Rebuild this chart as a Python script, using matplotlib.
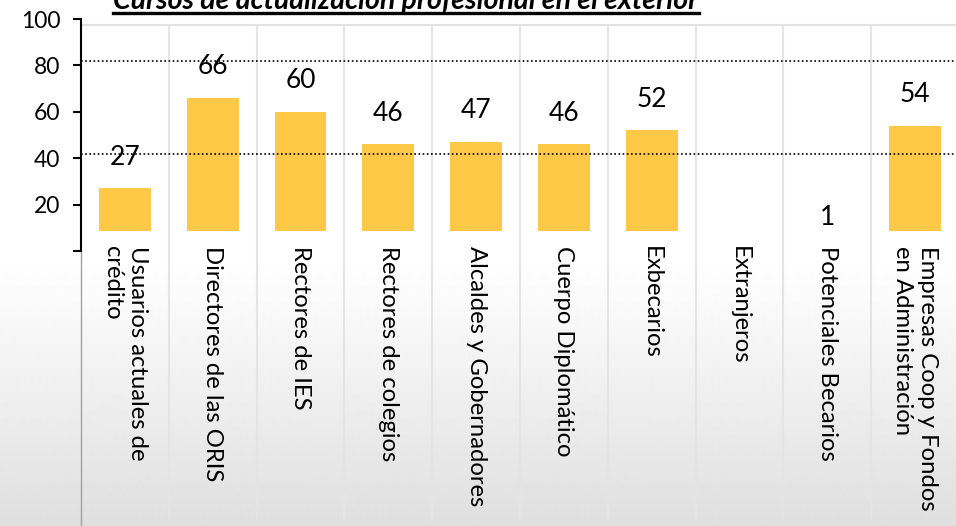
import matplotlib
matplotlib.use("Agg")
import matplotlib.pyplot as plt
import numpy as np
from matplotlib.patches import Rectangle
from matplotlib.lines import Line2D

plt.rcParams['font.family'] = ['Lato', 'DejaVu Sans']

# datos
titulo = "Cursos de actualización profesional en el exterior"
categorias = ["Usuarios actuales de\ncrédito", "Directores de las ORIS", "Rectores de IES",
              "Rectores de colegios", "Alcaldes y Gobernadores", "Cuerpo Diplomático",
              "Exbecarios", "Extranjeros", "Potenciales Becarios",
              "Empresas Coop y Fondos\nen Administración"]
valores = [27, 66, 60, 46, 47, 46, 52, np.nan, 1, 54]
lineas_ref = [82, 41.7]
y_ticks = [0, 20, 40, 60, 80, 100]
y_tick_labels = ["", "20", "40", "60", "80", "100"]

W, H = 956, 526
fig = plt.figure(figsize=(W / 100, H / 100), dpi=100)
fig.patch.set_facecolor('white')

# panel gris degradado bajo las etiquetas
panel_top = 231
bg = fig.add_axes([0, 0, 1, (H - panel_top) / H], zorder=0)
n = H - panel_top
grad = np.concatenate([np.ones(30), np.linspace(1, 0.875, n - 30)])
bg.imshow(np.tile(grad[:, None], (1, 2)), cmap='gray', vmin=0, vmax=1,
          aspect='auto', extent=[0, 1, 0, 1], interpolation='bilinear')
bg.axis('off')

# ejes principales
x0, x1 = 81, 959
y_top, y0 = 19, 251
ax = fig.add_axes([x0 / W, 1 - y0 / H, (x1 - x0) / W, (y0 - y_top) / H], zorder=1)
ax.patch.set_alpha(0)
ax.set_xlim(-0.5, len(categorias) - 0.5)
ax.set_ylim(0, 100)

x = np.arange(len(categorias))
bars = ax.bar(x, np.nan_to_num(valores), width=0.59, color='#FFC846', zorder=2)
clip = Rectangle((0, 1 - panel_top / H), 1, panel_top / H, transform=fig.transFigure)
for b in bars:
    b.set_clip_path(clip)

for xi, v in zip(x, valores):
    if np.isnan(v):
        continue
    ax.annotate(f"{v:g}", (xi, v), xytext=(0, 22.5), textcoords='offset points',
                ha='center', va='center', fontsize=19, color='black', zorder=3)

for v in lineas_ref:
    ax.axhline(v, color='black', ls=(0, (1, 1.5)), lw=1.2, zorder=2.5)

# bordes y rejilla vertical
borde_sup = (y0 - 25) / (y0 - y_top)
borde_inf = (y0 - 518) / (y0 - y_top)
ax.plot([0, 1], [borde_sup, borde_sup], transform=ax.transAxes, color='#e2e2e2',
        lw=1.5, clip_on=False, zorder=0.5)
for k in range(1, len(categorias)):
    ax.plot([k - 0.5, k - 0.5], [borde_sup, borde_inf], transform=ax.get_xaxis_transform(),
            color='#e4e4e4', lw=1.5, clip_on=False, zorder=0.5)
ax.plot([0, 0], [0, (y0 - H) / (y0 - y_top)], transform=ax.transAxes, color='#a0a0a0',
        lw=1, clip_on=False)

for s in ['top', 'right', 'bottom']:
    ax.spines[s].set_visible(False)
ax.spines['left'].set_linewidth(1.5)
ax.set_yticks(y_ticks)
ax.set_yticklabels(y_tick_labels)
ax.tick_params(axis='y', direction='out', length=6, width=1.5, labelsize=16.5, pad=9)
ax.set_xticks([])

label_y = (y0 - 246) / (y0 - y_top)
for xi, cat in zip(x, categorias):
    ax.text(xi, label_y, cat, rotation=-90, ha='center', va='top', multialignment='left',
            fontsize=17.2, transform=ax.get_xaxis_transform(), zorder=3)

# titulo subrayado (cortado arriba como en el original)
t = fig.text(406 / W, 1 - 9 / H, titulo, ha='center', va='baseline', fontsize=20.5,
             fontweight='bold', fontstyle='italic')
fig.canvas.draw()
bb = t.get_window_extent(fig.canvas.get_renderer())
uy = 1 - 13 / H
fig.add_artist(Line2D([bb.x0 / W, bb.x1 / W], [uy, uy], color='black', lw=2.4))

fig.savefig("out.png", dpi=100)
